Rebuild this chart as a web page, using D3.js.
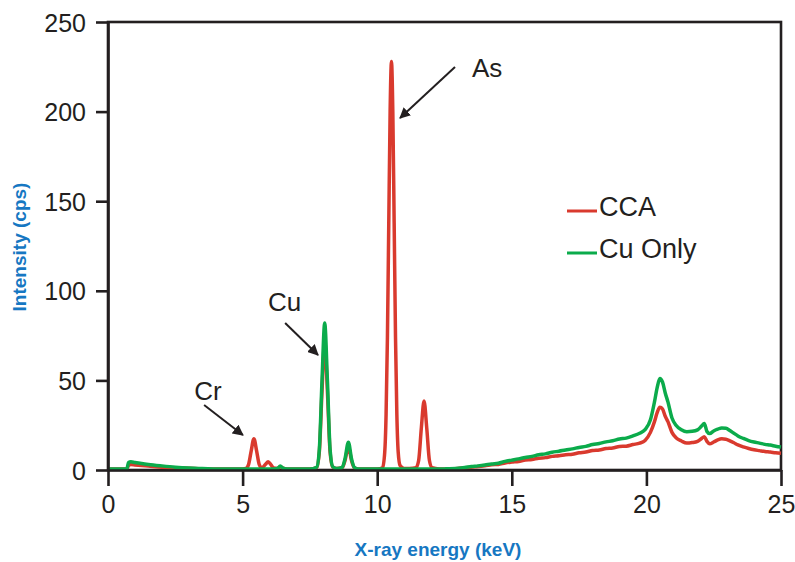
<!DOCTYPE html>
<html lang="en">
<head>
<meta charset="utf-8">
<style>
  body { margin: 0; background: #fff; }
  svg { font-family: "Liberation Sans", Arial, sans-serif; }
  .axis text { fill: #231f20; font-size: 25px; }
  .axis path, .axis line { stroke: #231f20; stroke-width: 2.6; }
  .title { fill: #1677c2; font-weight: bold; font-size: 19px; }
  .note { fill: #231f20; font-size: 26px; }
</style>
</head>
<body>
<script src="https://cdnjs.cloudflare.com/ajax/libs/d3/7.8.5/d3.min.js"></script>
<script>
// energy grid (keV), shared by both spectra
var energy = [
  0, 0.7, 0.76, 0.85, 1.0, 1.25, 1.5, 2.0, 2.5, 3.0, 3.5, 4.0, 4.5, 5.0,
  5.12, 5.22, 5.32, 5.42, 5.52, 5.62, 5.72, 5.85, 5.95, 6.05, 6.15, 6.3, 6.4, 6.5, 6.65, 7.0,
  7.5, 7.75, 7.85, 7.95, 8.05, 8.15, 8.25, 8.35, 8.5, 8.7, 8.8, 8.93, 9.05, 9.15, 9.3, 9.6,
  10.0, 10.2, 10.28, 10.33, 10.38, 10.43, 10.48, 10.53, 10.58, 10.63, 10.68, 10.73, 10.78, 10.85, 11.0,
  11.2, 11.44, 11.54, 11.64, 11.74, 11.84, 11.94, 12.04, 12.3,
  12.5, 13, 13.25, 13.5, 13.75, 14, 14.25, 14.5, 14.75, 15,
  15.25, 15.5, 15.75, 16, 16.25, 16.5, 16.75, 17, 17.25, 17.5,
  17.75, 18, 18.25, 18.5, 18.75, 19, 19.25, 19.5, 19.75, 19.95,
  20.15, 20.3, 20.4, 20.5, 20.6, 20.7, 20.8, 20.95, 21.1, 21.3,
  21.5, 21.7, 21.9, 22.05, 22.15, 22.25, 22.35, 22.5, 22.65, 22.8,
  22.95, 23.1, 23.25, 23.4, 23.6, 23.8, 24.0, 24.2, 24.4, 24.6,
  24.8, 25.0
];

var cca = [
  0.5, 0.5, 2.5, 3.0, 2.8, 2.5, 2.2, 1.6, 1.2, 1.0, 0.7, 0.6, 0.6, 0.6,
  0.8, 3.0, 10.7, 17.5, 10.7, 3.0, 1.2, 3.2, 4.6, 3.0, 1.2, 0.9, 1.8, 1.0, 0.6, 0.5,
  0.5, 1.3, 10, 44, 72, 44, 10, 1.6, 0.8, 1.3, 5, 13, 5, 1.3, 0.6, 0.5,
  0.6, 1.2, 10, 31, 74, 138, 200, 228, 200, 138, 74, 31, 10, 2.5, 0.9,
  0.9, 1.3, 5.3, 23.5, 38.5, 23.5, 5.3, 1.3, 0.6,
  0.6, 0.9, 1.3, 1.6, 2.0, 2.3, 2.9, 3.1, 3.9, 4.4,
  4.8, 5.6, 5.9, 6.6, 6.9, 7.6, 7.9, 8.5, 8.8, 9.6,
  10.0, 10.9, 11.2, 12.0, 12.3, 13.1, 13.3, 14.2, 15.0, 16.5,
  21, 27, 32, 35, 34, 30, 27, 21, 18, 16.2,
  15.0, 15.3, 16.0, 17.6, 18.6, 16.0, 14.6, 15.6, 16.8, 17.4,
  17.2, 16.3, 15.2, 14.0, 12.9, 12.0, 11.3, 10.8, 10.3, 10.0,
  9.6, 9.3
];

var cuOnly = [
  0.5, 0.5, 4.2, 4.6, 4.2, 3.6, 3.1, 2.3, 1.6, 1.1, 0.8, 0.6, 0.5, 0.5,
  0.5, 0.5, 0.5, 0.6, 0.5, 0.5, 0.5, 0.6, 0.6, 0.6, 0.6, 0.9, 2.2, 1.0, 0.6, 0.5,
  0.5, 1.5, 11.5, 50, 82, 50, 11.5, 1.8, 0.8, 1.5, 6, 15.5, 6, 1.5, 0.6, 0.5,
  0.5, 0.5, 0.5, 0.5, 0.5, 0.5, 0.5, 0.5, 0.5, 0.5, 0.5, 0.5, 0.5, 0.5, 0.5,
  0.5, 0.5, 0.5, 0.5, 0.5, 0.5, 0.5, 0.5, 0.5,
  0.6, 1.0, 1.4, 1.9, 2.3, 2.8, 3.4, 3.8, 4.8, 5.5,
  6.2, 7.0, 7.6, 8.5, 9.0, 9.9, 10.5, 11.2, 11.8, 12.6,
  13.2, 14.2, 14.8, 15.7, 16.3, 17.3, 17.8, 19.0, 20.5, 22.5,
  28, 38, 46, 51, 49, 43, 38, 29, 25, 22.5,
  21.4, 21.6, 22.4, 24.5, 26, 21.5, 20.3, 21.8, 22.8, 23.5,
  23.3, 22.0, 20.5, 19.0, 17.6, 16.4, 15.6, 15.0, 14.3, 13.9,
  13.3, 12.8
];

var xTicks = [0, 5, 10, 15, 20, 25];
var yTicks = [0, 50, 100, 150, 200, 250];
var seriesNames = ["CCA", "Cu Only"];
var seriesColors = ["#d93a2e", "#0bab4b"];

// peak labels: text position and arrow (tail -> head), in data units
var notes = [
  { label: "Cr", tx: 3.2, ty: 39, ax: 3.57, ay: 36.3, bx: 5.01, by: 19.5 },
  { label: "Cu", tx: 5.94, ty: 88.7, ax: 6.58, ay: 82, bx: 7.8, by: 64.2 },
  { label: "As", tx: 13.52, ty: 219.5, ax: 12.89, ay: 224.9, bx: 10.85, by: 196.4 }
];

var W = 795, H = 562;
var m = { left: 108, right: 14, top: 22, bottom: 92 };

var svg = d3.select("body").append("svg")
  .attr("width", W).attr("height", H);

var x = d3.scaleLinear().domain([0, 25]).range([m.left, W - m.right]);
var y = d3.scaleLinear().domain([0, 250]).range([H - m.bottom, m.top]);

svg.append("defs").append("marker")
  .attr("id", "head")
  .attr("viewBox", "0 0 10 10")
  .attr("refX", 9).attr("refY", 5)
  .attr("markerWidth", 5.5).attr("markerHeight", 5.5)
  .attr("markerUnits", "strokeWidth")
  .attr("orient", "auto")
  .append("path").attr("d", "M0,0 L10,5 L0,10 Z").attr("fill", "#231f20");

var line = d3.line()
  .x(function(d) { return x(d[0]); })
  .y(function(d) { return y(d[1]); })
  .curve(d3.curveMonotoneX);

// frame (top and right sides)
svg.append("rect")
  .attr("x", x(0)).attr("y", y(250))
  .attr("width", x(25) - x(0)).attr("height", y(0) - y(250))
  .attr("fill", "none").attr("stroke", "#231f20").attr("stroke-width", 2.6);

[cca, cuOnly].forEach(function(vals, i) {
  svg.append("path")
    .datum(energy.map(function(e, k) { return [e, vals[k]]; }))
    .attr("fill", "none")
    .attr("stroke", seriesColors[i])
    .attr("stroke-width", 3.5)
    .attr("stroke-linejoin", "round")
    .attr("d", line);
});

svg.append("g").attr("class", "axis")
  .attr("transform", "translate(0," + y(0) + ")")
  .call(d3.axisBottom(x).tickValues(xTicks).tickSize(16).tickPadding(9).tickSizeOuter(0));

svg.append("g").attr("class", "axis")
  .attr("transform", "translate(" + x(0) + ",0)")
  .call(d3.axisLeft(y).tickValues(yTicks).tickSize(12).tickPadding(10).tickSizeOuter(0))
  .selectAll("text").attr("dy", "0.36em");

// axis titles
svg.append("text").attr("class", "title")
  .attr("x", 438).attr("y", 556)
  .attr("text-anchor", "middle")
  .text("X-ray energy (keV)");

svg.append("text").attr("class", "title")
  .attr("transform", "translate(26,247) rotate(-90)")
  .attr("text-anchor", "middle")
  .text("Intensity (cps)");

// peak annotations
notes.forEach(function(n) {
  svg.append("text").attr("class", "note")
    .attr("x", x(n.tx)).attr("y", y(n.ty))
    .text(n.label);
  svg.append("line")
    .attr("x1", x(n.ax)).attr("y1", y(n.ay))
    .attr("x2", x(n.bx)).attr("y2", y(n.by))
    .attr("stroke", "#231f20").attr("stroke-width", 2)
    .attr("marker-end", "url(#head)");
});

// legend
var legend = svg.append("g").attr("transform", "translate(567,211)");
seriesNames.forEach(function(name, i) {
  var g = legend.append("g").attr("transform", "translate(0," + (i * 42) + ")");
  g.append("line").attr("x1", 0).attr("x2", 30)
    .attr("stroke", seriesColors[i]).attr("stroke-width", 3);
  g.append("text").attr("class", "note")
    .attr("x", 32).attr("y", 5)
    .style("font-size", "27px")
    .text(name);
});
</script>
</body>
</html>
